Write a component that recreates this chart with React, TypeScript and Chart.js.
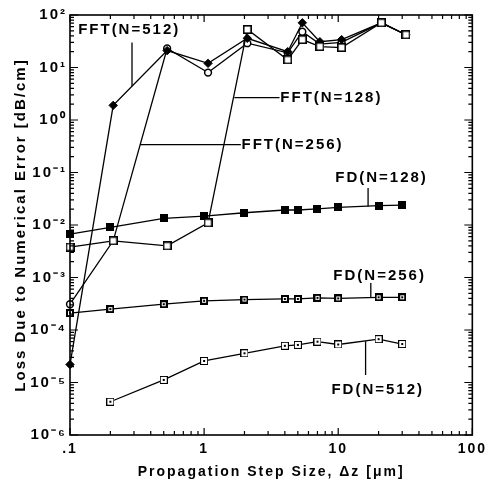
import React, { useEffect, useRef } from 'react';
import { Chart, registerables } from 'chart.js';

Chart.register(...registerables);

// ---- data ----
const fftX = [0.1, 0.21, 0.53, 1.07, 2.1, 4.2, 5.4, 7.3, 10.6, 21, 32];
const fft512 = [2.2e-5, 1.9, 21, 12, 36, 20, 71, 31, 34, 71, 42];
const fft256 = [3.1e-4, 5.0e-3, 23, 8.0, 29, 19, 48, 28, 30, 71, 42];
const fft128 = [3.8e-3, 5.0e-3, 4.0e-3, 1.1e-2, 53, 14, 34, 25, 24, 71, 42];

const fdX = [0.1, 0.2, 0.5, 1, 2, 4, 5, 7, 10, 20, 30];
const fd128 = [6.7e-3, 9.0e-3, 1.34e-2, 1.48e-2, 1.71e-2, 1.93e-2, 1.93e-2, 2.02e-2, 2.17e-2, 2.33e-2, 2.4e-2];
const fd256 = [2.1e-4, 2.5e-4, 3.1e-4, 3.6e-4, 3.8e-4, 3.9e-4, 3.9e-4, 4.1e-4, 4.0e-4, 4.2e-4, 4.2e-4];
const fd512X = [0.2, 0.5, 1, 2, 4, 5, 7, 10, 20, 30];
const fd512 = [4.3e-6, 1.12e-5, 2.57e-5, 3.6e-5, 5.0e-5, 5.2e-5, 6.0e-5, 5.3e-5, 6.7e-5, 5.4e-5];

const xTickValues = [0.1, 1, 10, 100];
const xTickLabels = ['.1', '1', '10', '100'];
const yTickValues = [1e-6, 1e-5, 1e-4, 1e-3, 1e-2, 1e-1, 1, 10, 100];
const yTickLabels = ['10⁻⁶', '10⁻⁵', '10⁻⁴', '10⁻³', '10⁻²', '10⁻¹', '10⁰', '10¹', '10²'];

const xTitle = 'Propagation Step Size, Δz [μm]';
const yTitle = 'Loss Due to Numerical Error [dB/cm]';

// annotation labels: text anchor (data coords) and leader line (data coords)
const noteTexts = ['FFT(N=512)', 'FFT(N=128)', 'FFT(N=256)', 'FD(N=128)', 'FD(N=256)', 'FD(N=512)'];
const noteAnchors = [[0.115, 52], [3.7, 2.66], [1.9, 0.341], [9.5, 0.0776], [9.2, 1.07e-3], [8.9, 7.2e-6]];
const noteLeaders = [
  [[0.29, 30], [0.29, 4.4]],
  [[1.68, 2.66], [3.65, 2.66]],
  [[0.333, 0.341], [1.88, 0.341]],
  [[16.7, 0.0507], [16.7, 0.0225]],
  [[17.5, 7.85e-4], [17.5, 4.2e-4]],
  [[16, 1.39e-5], [16, 6.1e-5]],
];

const pts = (xs: number[], ys: number[]) => xs.map((x, i) => ({ x, y: ys[i] }));

function makeMarker(size: number, draw: (g: CanvasRenderingContext2D) => void) {
  const c = document.createElement('canvas');
  c.width = size;
  c.height = size;
  const g = c.getContext('2d')!;
  draw(g);
  return c;
}

export default function App() {
  const ref = useRef<HTMLCanvasElement>(null);

  useEffect(() => {
    const canvas = ref.current!;
    const fd128Mk = makeMarker(8, (g) => { g.fillStyle = '#000'; g.fillRect(0, 0, 8, 8); });
    const fd256Mk = makeMarker(8, (g) => {
      g.fillStyle = '#000'; g.fillRect(0, 0, 8, 8);
      g.fillStyle = '#fff'; g.fillRect(2, 2, 4, 4);
      g.fillStyle = '#000'; g.fillRect(3, 3, 2, 2);
    });
    const fd512Mk = makeMarker(8, (g) => {
      g.fillStyle = '#000'; g.fillRect(0, 0, 8, 8);
      g.fillStyle = '#fff'; g.fillRect(1, 1, 6, 6);
      g.fillStyle = '#000'; g.fillRect(3, 3, 2, 2);
    });
    const fft128Mk = makeMarker(9, (g) => {
      g.fillStyle = '#fff'; g.fillRect(0, 0, 9, 9);
      g.strokeStyle = '#000'; g.lineWidth = 1.6; g.strokeRect(0.8, 0.8, 7.4, 7.4);
    });

    const decor = {
      id: 'decor',
      beforeDraw(chart: any) {
        const ctx = chart.ctx;
        ctx.save();
        ctx.fillStyle = '#fff';
        ctx.fillRect(0, 0, chart.width, chart.height);
        ctx.restore();
        ctx.letterSpacing = '2px';
      },
      afterDraw(chart: any) {
        const { ctx, chartArea: a, scales } = chart;
        const xs = scales.x;
        const ys = scales.y;
        ctx.save();
        ctx.strokeStyle = '#000';
        ctx.lineWidth = 1.6;
        ctx.strokeRect(a.left, a.top, a.right - a.left, a.bottom - a.top);
        ctx.lineWidth = 1.2;
        ctx.beginPath();
        for (let e = -1; e <= 2; e++) {
          for (let m = 1; m <= 9; m++) {
            if (e === 2 && m > 1) break;
            const v = m * Math.pow(10, e);
            const p = xs.getPixelForValue(v);
            const len = m === 1 ? 7 : 4;
            ctx.moveTo(p, a.bottom); ctx.lineTo(p, a.bottom - len);
            ctx.moveTo(p, a.top); ctx.lineTo(p, a.top + len);
          }
        }
        for (let e = -6; e <= 2; e++) {
          for (let m = 1; m <= 9; m++) {
            if (e === 2 && m > 1) break;
            const v = m * Math.pow(10, e);
            const p = ys.getPixelForValue(v);
            const len = m === 1 ? 8 : 4;
            ctx.moveTo(a.left, p); ctx.lineTo(a.left + len, p);
            ctx.moveTo(a.right, p); ctx.lineTo(a.right - len, p);
          }
        }
        ctx.stroke();

        // annotations
        ctx.font = 'bold 15px "Liberation Sans", Arial, sans-serif';
        ctx.fillStyle = '#000';
        ctx.textAlign = 'left';
        ctx.textBaseline = 'middle';
        ctx.lineWidth = 1.3;
        noteTexts.forEach((t, i) => {
          const [tx, ty] = noteAnchors[i];
          ctx.fillText(t, xs.getPixelForValue(tx), ys.getPixelForValue(ty));
          const [[x1, y1], [x2, y2]] = noteLeaders[i];
          ctx.beginPath();
          ctx.moveTo(xs.getPixelForValue(x1), ys.getPixelForValue(y1));
          ctx.lineTo(xs.getPixelForValue(x2), ys.getPixelForValue(y2));
          ctx.stroke();
        });
        ctx.restore();
        ctx.letterSpacing = '0px';
      },
    };

    const lineDs = (label: string, data: any[], style: any, extra: any = {}) => ({
      label,
      data,
      showLine: true,
      borderColor: '#000',
      borderWidth: 1.3,
      pointStyle: style,
      pointRadius: 4,
      pointBorderColor: '#000',
      clip: false,
      ...extra,
    });

    const tickFont = { family: '"Liberation Sans", Arial, sans-serif', size: 15, weight: 'bold' as const };

    const chart = new Chart(canvas, {
      type: 'scatter',
      data: {
        datasets: [
          lineDs('FFT(N=128)', pts(fftX, fft128), fft128Mk),
          lineDs('FFT(N=512)', pts(fftX, fft512), 'rectRot', { pointRadius: 4.2, pointBackgroundColor: '#000', pointBorderWidth: 1 }),
          lineDs('FFT(N=256)', pts(fftX, fft256), 'circle', { pointRadius: 3.4, pointBackgroundColor: '#fff', pointBorderWidth: 1.5 }),
          lineDs('FD(N=128)', pts(fdX, fd128), fd128Mk),
          lineDs('FD(N=256)', pts(fdX, fd256), fd256Mk),
          lineDs('FD(N=512)', pts(fd512X, fd512), fd512Mk),
        ],
      },
      options: {
        responsive: false,
        animation: false,
        devicePixelRatio: 1,
        layout: { padding: { top: 15, right: 15, left: 0, bottom: 0 } },
        plugins: { legend: { display: false }, tooltip: { enabled: false } },
        scales: {
          x: {
            type: 'logarithmic',
            position: 'bottom',
            min: 0.1,
            max: 100,
            grid: { display: false, drawTicks: false },
            border: { display: false },
            afterBuildTicks: (s: any) => { s.ticks = xTickValues.map((v) => ({ value: v })); },
            afterFit: (s: any) => { s.height = 56; },
            ticks: {
              autoSkip: false,
              maxRotation: 0,
              padding: 6,
              color: '#000',
              font: { family: '"Liberation Sans", Arial, sans-serif', size: 14, weight: 'bold' },
              callback: (_v: any, i: number) => xTickLabels[i],
            },
            title: {
              display: true,
              text: xTitle,
              color: '#000',
              font: { family: '"Liberation Sans", Arial, sans-serif', size: 14, weight: 'bold' },
              padding: { top: 0, bottom: 10 },
            },
          },
          y: {
            type: 'logarithmic',
            position: 'left',
            min: 1e-6,
            max: 100,
            grid: { display: false, drawTicks: false },
            border: { display: false },
            afterBuildTicks: (s: any) => { s.ticks = yTickValues.map((v) => ({ value: v })); },
            afterFit: (s: any) => { s.width = 70; },
            ticks: {
              autoSkip: false,
              padding: 3,
              color: '#000',
              font: tickFont,
              callback: (_v: any, i: number) => yTickLabels[i],
            },
            title: {
              display: true,
              text: yTitle,
              color: '#000',
              font: { family: '"Liberation Sans", Arial, sans-serif', size: 15, weight: 'bold' },
              padding: { top: 12, bottom: 0 },
            },
          },
        },
      },
      plugins: [decor],
    } as any);

    return () => chart.destroy();
  }, []);

  return (
    <div style={{ position: 'absolute', left: 0, top: 0, width: 490, height: 491, background: '#fff' }}>
      <canvas ref={ref} width={490} height={491} style={{ display: 'block' }} />
    </div>
  );
}
